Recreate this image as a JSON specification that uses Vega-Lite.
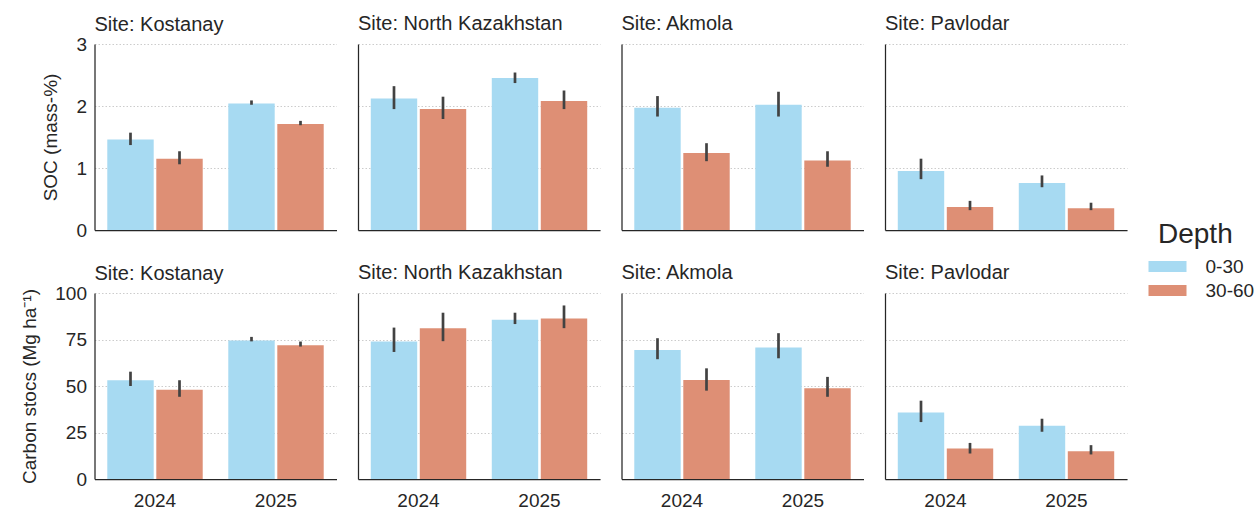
{
  "$schema": "https://vega.github.io/schema/vega-lite/v6.json",
  "background": "white",
  "padding": {"left": 20.5, "top": 14, "right": 5, "bottom": 2},
  "datasets": {
    "d": [
      {"Metric": "SOC", "Site": "Kostanay", "Year": "2024", "Depth": "0-30", "Mean": 1.46, "Lo": 1.37, "Hi": 1.57},
      {"Metric": "SOC", "Site": "Kostanay", "Year": "2024", "Depth": "30-60", "Mean": 1.15, "Lo": 1.06, "Hi": 1.27},
      {"Metric": "SOC", "Site": "Kostanay", "Year": "2025", "Depth": "0-30", "Mean": 2.04, "Lo": 2.02, "Hi": 2.09},
      {"Metric": "SOC", "Site": "Kostanay", "Year": "2025", "Depth": "30-60", "Mean": 1.71, "Lo": 1.69, "Hi": 1.76},
      {"Metric": "SOC", "Site": "North Kazakhstan", "Year": "2024", "Depth": "0-30", "Mean": 2.12, "Lo": 1.95, "Hi": 2.32},
      {"Metric": "SOC", "Site": "North Kazakhstan", "Year": "2024", "Depth": "30-60", "Mean": 1.95, "Lo": 1.79, "Hi": 2.15},
      {"Metric": "SOC", "Site": "North Kazakhstan", "Year": "2025", "Depth": "0-30", "Mean": 2.45, "Lo": 2.37, "Hi": 2.54},
      {"Metric": "SOC", "Site": "North Kazakhstan", "Year": "2025", "Depth": "30-60", "Mean": 2.08, "Lo": 1.95, "Hi": 2.25},
      {"Metric": "SOC", "Site": "Akmola", "Year": "2024", "Depth": "0-30", "Mean": 1.97, "Lo": 1.83, "Hi": 2.16},
      {"Metric": "SOC", "Site": "Akmola", "Year": "2024", "Depth": "30-60", "Mean": 1.24, "Lo": 1.11, "Hi": 1.40},
      {"Metric": "SOC", "Site": "Akmola", "Year": "2025", "Depth": "0-30", "Mean": 2.02, "Lo": 1.83, "Hi": 2.23},
      {"Metric": "SOC", "Site": "Akmola", "Year": "2025", "Depth": "30-60", "Mean": 1.12, "Lo": 1.02, "Hi": 1.27},
      {"Metric": "SOC", "Site": "Pavlodar", "Year": "2024", "Depth": "0-30", "Mean": 0.95, "Lo": 0.82, "Hi": 1.15},
      {"Metric": "SOC", "Site": "Pavlodar", "Year": "2024", "Depth": "30-60", "Mean": 0.37, "Lo": 0.32, "Hi": 0.47},
      {"Metric": "SOC", "Site": "Pavlodar", "Year": "2025", "Depth": "0-30", "Mean": 0.76, "Lo": 0.69, "Hi": 0.88},
      {"Metric": "SOC", "Site": "Pavlodar", "Year": "2025", "Depth": "30-60", "Mean": 0.35, "Lo": 0.32, "Hi": 0.44},
      {"Metric": "C", "Site": "Kostanay", "Year": "2024", "Depth": "0-30", "Mean": 53.1, "Lo": 50.0, "Hi": 57.7},
      {"Metric": "C", "Site": "Kostanay", "Year": "2024", "Depth": "30-60", "Mean": 48.0, "Lo": 44.2, "Hi": 53.1},
      {"Metric": "C", "Site": "Kostanay", "Year": "2025", "Depth": "0-30", "Mean": 74.4, "Lo": 74.0, "Hi": 76.4},
      {"Metric": "C", "Site": "Kostanay", "Year": "2025", "Depth": "30-60", "Mean": 71.9, "Lo": 71.2, "Hi": 73.9},
      {"Metric": "C", "Site": "North Kazakhstan", "Year": "2024", "Depth": "0-30", "Mean": 73.9, "Lo": 68.3, "Hi": 81.4},
      {"Metric": "C", "Site": "North Kazakhstan", "Year": "2024", "Depth": "30-60", "Mean": 81.1, "Lo": 74.1, "Hi": 89.4},
      {"Metric": "C", "Site": "North Kazakhstan", "Year": "2025", "Depth": "0-30", "Mean": 85.6, "Lo": 83.3, "Hi": 89.4},
      {"Metric": "C", "Site": "North Kazakhstan", "Year": "2025", "Depth": "30-60", "Mean": 86.3, "Lo": 81.1, "Hi": 93.3},
      {"Metric": "C", "Site": "Akmola", "Year": "2024", "Depth": "0-30", "Mean": 69.4, "Lo": 64.4, "Hi": 75.7},
      {"Metric": "C", "Site": "Akmola", "Year": "2024", "Depth": "30-60", "Mean": 53.2, "Lo": 47.5, "Hi": 59.5},
      {"Metric": "C", "Site": "Akmola", "Year": "2025", "Depth": "0-30", "Mean": 70.7, "Lo": 64.9, "Hi": 78.4},
      {"Metric": "C", "Site": "Akmola", "Year": "2025", "Depth": "30-60", "Mean": 48.8, "Lo": 44.2, "Hi": 54.9},
      {"Metric": "C", "Site": "Pavlodar", "Year": "2024", "Depth": "0-30", "Mean": 35.8, "Lo": 30.6, "Hi": 42.1},
      {"Metric": "C", "Site": "Pavlodar", "Year": "2024", "Depth": "30-60", "Mean": 16.4, "Lo": 13.7, "Hi": 19.4},
      {"Metric": "C", "Site": "Pavlodar", "Year": "2025", "Depth": "0-30", "Mean": 28.6, "Lo": 25.4, "Hi": 32.4},
      {"Metric": "C", "Site": "Pavlodar", "Year": "2025", "Depth": "30-60", "Mean": 14.9, "Lo": 13.2, "Hi": 18.2}
    ]
  },
  "columns": 4,
  "bounds": "flush",
  "spacing": {"row": 63, "column": 21.5},
  "concat": [
    {
      "title": {"text": "Site: Kostanay", "offset": 0},
      "data": {"name": "d"},
      "transform": [{"filter": "datum.Metric == 'SOC' && datum.Site == 'Kostanay'"}],
      "width": 242, "height": 186,
      "encoding": {
        "x": {"field": "Year", "type": "nominal", "title": null, "scale": {"paddingInner": 0.2, "paddingOuter": 0.1}, "axis": {"labels": false}},
        "xOffset": {"field": "Depth", "type": "nominal", "scale": {"paddingInner": 0.053, "paddingOuter": 0.014}}
      },
      "layer": [
        {"mark": "bar", "encoding": {
          "y": {"field": "Mean", "type": "quantitative", "scale": {"domain": [0, 3]}, "axis": {"title": "SOC (mass-%)", "values": [0, 1, 2, 3], "format": "d"}},
          "color": {"field": "Depth", "type": "nominal", "title": "Depth", "scale": {"domain": ["0-30", "30-60"], "range": ["#A7DAF2", "#DE8F75"]}}
        }},
        {"mark": {"type": "rule", "color": "#424242", "strokeWidth": 2.7}, "encoding": {"y": {"field": "Lo", "type": "quantitative"}, "y2": {"field": "Hi"}}}
      ]
    },
    {
      "title": "Site: North Kazakhstan",
      "data": {"name": "d"},
      "transform": [{"filter": "datum.Metric == 'SOC' && datum.Site == 'North Kazakhstan'"}],
      "width": 242, "height": 186,
      "encoding": {
        "x": {"field": "Year", "type": "nominal", "title": null, "scale": {"paddingInner": 0.2, "paddingOuter": 0.1}, "axis": {"labels": false}},
        "xOffset": {"field": "Depth", "type": "nominal", "scale": {"paddingInner": 0.053, "paddingOuter": 0.014}}
      },
      "layer": [
        {"mark": "bar", "encoding": {
          "y": {"field": "Mean", "type": "quantitative", "scale": {"domain": [0, 3]}, "axis": {"title": null, "labels": false, "values": [0, 1, 2, 3]}},
          "color": {"field": "Depth", "type": "nominal", "title": "Depth", "scale": {"domain": ["0-30", "30-60"], "range": ["#A7DAF2", "#DE8F75"]}}
        }},
        {"mark": {"type": "rule", "color": "#424242", "strokeWidth": 2.7}, "encoding": {"y": {"field": "Lo", "type": "quantitative"}, "y2": {"field": "Hi"}}}
      ]
    },
    {
      "title": "Site: Akmola",
      "data": {"name": "d"},
      "transform": [{"filter": "datum.Metric == 'SOC' && datum.Site == 'Akmola'"}],
      "width": 242, "height": 186,
      "encoding": {
        "x": {"field": "Year", "type": "nominal", "title": null, "scale": {"paddingInner": 0.2, "paddingOuter": 0.1}, "axis": {"labels": false}},
        "xOffset": {"field": "Depth", "type": "nominal", "scale": {"paddingInner": 0.053, "paddingOuter": 0.014}}
      },
      "layer": [
        {"mark": "bar", "encoding": {
          "y": {"field": "Mean", "type": "quantitative", "scale": {"domain": [0, 3]}, "axis": {"title": null, "labels": false, "values": [0, 1, 2, 3]}},
          "color": {"field": "Depth", "type": "nominal", "title": "Depth", "scale": {"domain": ["0-30", "30-60"], "range": ["#A7DAF2", "#DE8F75"]}}
        }},
        {"mark": {"type": "rule", "color": "#424242", "strokeWidth": 2.7}, "encoding": {"y": {"field": "Lo", "type": "quantitative"}, "y2": {"field": "Hi"}}}
      ]
    },
    {
      "title": "Site: Pavlodar",
      "data": {"name": "d"},
      "transform": [{"filter": "datum.Metric == 'SOC' && datum.Site == 'Pavlodar'"}],
      "width": 242, "height": 186,
      "encoding": {
        "x": {"field": "Year", "type": "nominal", "title": null, "scale": {"paddingInner": 0.2, "paddingOuter": 0.1}, "axis": {"labels": false}},
        "xOffset": {"field": "Depth", "type": "nominal", "scale": {"paddingInner": 0.053, "paddingOuter": 0.014}}
      },
      "layer": [
        {"mark": "bar", "encoding": {
          "y": {"field": "Mean", "type": "quantitative", "scale": {"domain": [0, 3]}, "axis": {"title": null, "labels": false, "values": [0, 1, 2, 3]}},
          "color": {"field": "Depth", "type": "nominal", "title": "Depth", "scale": {"domain": ["0-30", "30-60"], "range": ["#A7DAF2", "#DE8F75"]}}
        }},
        {"mark": {"type": "rule", "color": "#424242", "strokeWidth": 2.7}, "encoding": {"y": {"field": "Lo", "type": "quantitative"}, "y2": {"field": "Hi"}}}
      ]
    },
    {
      "title": {"text": "Site: Kostanay", "offset": 0},
      "data": {"name": "d"},
      "transform": [{"filter": "datum.Metric == 'C' && datum.Site == 'Kostanay'"}],
      "width": 242, "height": 186,
      "encoding": {
        "x": {"field": "Year", "type": "nominal", "title": null, "scale": {"paddingInner": 0.2, "paddingOuter": 0.1}, "axis": {"labelAngle": 0}},
        "xOffset": {"field": "Depth", "type": "nominal", "scale": {"paddingInner": 0.053, "paddingOuter": 0.014}}
      },
      "layer": [
        {"mark": "bar", "encoding": {
          "y": {"field": "Mean", "type": "quantitative", "scale": {"domain": [0, 100]}, "axis": {"title": "Carbon stocs (Mg ha⁻¹)", "values": [0, 25, 50, 75, 100]}},
          "color": {"field": "Depth", "type": "nominal", "title": "Depth", "scale": {"domain": ["0-30", "30-60"], "range": ["#A7DAF2", "#DE8F75"]}}
        }},
        {"mark": {"type": "rule", "color": "#424242", "strokeWidth": 2.7}, "encoding": {"y": {"field": "Lo", "type": "quantitative"}, "y2": {"field": "Hi"}}}
      ]
    },
    {
      "title": "Site: North Kazakhstan",
      "data": {"name": "d"},
      "transform": [{"filter": "datum.Metric == 'C' && datum.Site == 'North Kazakhstan'"}],
      "width": 242, "height": 186,
      "encoding": {
        "x": {"field": "Year", "type": "nominal", "title": null, "scale": {"paddingInner": 0.2, "paddingOuter": 0.1}, "axis": {"labelAngle": 0}},
        "xOffset": {"field": "Depth", "type": "nominal", "scale": {"paddingInner": 0.053, "paddingOuter": 0.014}}
      },
      "layer": [
        {"mark": "bar", "encoding": {
          "y": {"field": "Mean", "type": "quantitative", "scale": {"domain": [0, 100]}, "axis": {"title": null, "labels": false, "values": [0, 25, 50, 75, 100]}},
          "color": {"field": "Depth", "type": "nominal", "title": "Depth", "scale": {"domain": ["0-30", "30-60"], "range": ["#A7DAF2", "#DE8F75"]}}
        }},
        {"mark": {"type": "rule", "color": "#424242", "strokeWidth": 2.7}, "encoding": {"y": {"field": "Lo", "type": "quantitative"}, "y2": {"field": "Hi"}}}
      ]
    },
    {
      "title": "Site: Akmola",
      "data": {"name": "d"},
      "transform": [{"filter": "datum.Metric == 'C' && datum.Site == 'Akmola'"}],
      "width": 242, "height": 186,
      "encoding": {
        "x": {"field": "Year", "type": "nominal", "title": null, "scale": {"paddingInner": 0.2, "paddingOuter": 0.1}, "axis": {"labelAngle": 0}},
        "xOffset": {"field": "Depth", "type": "nominal", "scale": {"paddingInner": 0.053, "paddingOuter": 0.014}}
      },
      "layer": [
        {"mark": "bar", "encoding": {
          "y": {"field": "Mean", "type": "quantitative", "scale": {"domain": [0, 100]}, "axis": {"title": null, "labels": false, "values": [0, 25, 50, 75, 100]}},
          "color": {"field": "Depth", "type": "nominal", "title": "Depth", "scale": {"domain": ["0-30", "30-60"], "range": ["#A7DAF2", "#DE8F75"]}}
        }},
        {"mark": {"type": "rule", "color": "#424242", "strokeWidth": 2.7}, "encoding": {"y": {"field": "Lo", "type": "quantitative"}, "y2": {"field": "Hi"}}}
      ]
    },
    {
      "title": "Site: Pavlodar",
      "data": {"name": "d"},
      "transform": [{"filter": "datum.Metric == 'C' && datum.Site == 'Pavlodar'"}],
      "width": 242, "height": 186,
      "encoding": {
        "x": {"field": "Year", "type": "nominal", "title": null, "scale": {"paddingInner": 0.2, "paddingOuter": 0.1}, "axis": {"labelAngle": 0}},
        "xOffset": {"field": "Depth", "type": "nominal", "scale": {"paddingInner": 0.053, "paddingOuter": 0.014}}
      },
      "layer": [
        {"mark": "bar", "encoding": {
          "y": {"field": "Mean", "type": "quantitative", "scale": {"domain": [0, 100]}, "axis": {"title": null, "labels": false, "values": [0, 25, 50, 75, 100]}},
          "color": {"field": "Depth", "type": "nominal", "title": "Depth", "scale": {"domain": ["0-30", "30-60"], "range": ["#A7DAF2", "#DE8F75"]}}
        }},
        {"mark": {"type": "rule", "color": "#424242", "strokeWidth": 2.7}, "encoding": {"y": {"field": "Lo", "type": "quantitative"}, "y2": {"field": "Hi"}}}
      ]
    }
  ],
  "config": {
    "font": "Liberation Sans",
    "view": {"stroke": null},
    "axis": {
      "domainColor": "#262626", "domainWidth": 1.25,
      "labelFont": "Liberation Sans", "labelFontSize": 19, "labelColor": "#262626",
      "titleFont": "Liberation Sans", "titleFontSize": 19, "titleFontWeight": "normal", "titleColor": "#262626",
      "ticks": false, "tickSize": 0, "labelPadding": 8, "titlePadding": 15
    },
    "axisY": {"gridColor": "#cccccc", "gridDash": [1.5, 2], "gridWidth": 1, "zindex": 0},
    "axisX": {"grid": false, "zindex": 1, "labelPadding": 12},
    "title": {"anchor": "start", "frame": "group", "fontSize": 20, "fontWeight": "normal", "color": "#262626", "offset": 10, "font": "Liberation Sans"},
    "legend": {
      "orient": "none", "legendX": 1063.5, "legendY": 177,
      "titleFont": "Liberation Sans", "titleFontSize": 28, "titleFontWeight": "normal", "titleColor": "#262626", "titleAnchor": "start", "titlePadding": 8,
      "labelFont": "Liberation Sans", "labelFontSize": 19, "labelColor": "#262626", "labelOffset": 28.5,
      "symbolType": "M-2,-0.58H2V0.58H-2Z", "symbolSize": 361, "symbolStrokeWidth": 0, "symbolOpacity": 1,
      "rowPadding": 4
    }
  }
}
